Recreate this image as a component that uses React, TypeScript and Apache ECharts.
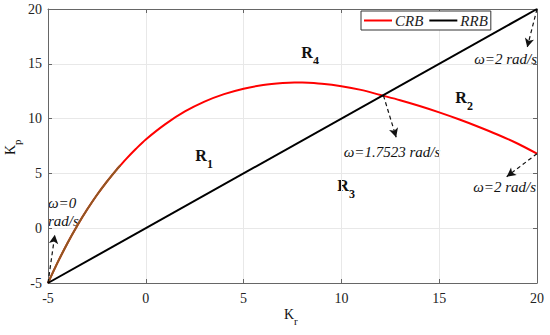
import React, { useEffect, useRef } from "react";
import * as echarts from "echarts";

const crbX = [-5, -4.5, -4, -3.5, -3, -2.5, -2, -1.5, -1.3, -1, -0.5, 0, 1, 2, 3, 4, 5, 6, 7, 7.6, 8, 9, 10, 11, 12, 13, 14, 15, 16, 17, 18, 19, 20];
const crbY = [-5, -3.1, -1.35, 0.25, 1.7, 3.03, 4.23, 5.33, 5.73, 6.33, 7.25, 8.1, 9.5, 10.65, 11.55, 12.23, 12.73, 13.06, 13.25, 13.3, 13.29, 13.18, 12.96, 12.62, 12.15, 11.68, 11.15, 10.57, 9.94, 9.26, 8.53, 7.73, 6.8];
const brownEndX = -1.3;
const rrbX = [-5, 20];
const rrbY = [-5, 20];
const seriesNames = ["CRB", "RRB"];
const axisMin = -5;
const axisMax = 20;
const axisStep = 5;

// annotation arrows (data space): [from, to]
const arrows: number[][][] = [
  [[-5, -5], [-4.65, -0.6]],
  [[20, 20], [19.5, 16.5]],
  [[12.15, 12.1], [12.8, 8.3]],
  [[20, 6.8], [18.45, 4.7]],
];

const FONT = "'Liberation Serif', 'Times New Roman', serif";

function subLabel(x: number, y: number, main: string, sub: string, bold: boolean, size: number, subSize: number, subDx: number, subDy: number, rotation = 0) {
  return {
    type: "group",
    x,
    y,
    rotation,
    silent: true,
    children: [
      {
        type: "text",
        x: 0,
        y: 0,
        style: { text: main, font: `${bold ? "bold " : ""}${size}px ${FONT}`, fill: "#111", align: "center", verticalAlign: "middle" },
      },
      {
        type: "text",
        x: subDx,
        y: subDy,
        style: { text: sub, font: `${bold ? "bold " : ""}${subSize}px ${FONT}`, fill: "#111", align: "left", verticalAlign: "middle" },
      },
    ],
  };
}

function annText(x: number, y: number, text: string, align: string) {
  return {
    type: "text",
    x,
    y,
    silent: true,
    style: { text, font: `italic 15px ${FONT}`, fill: "#111", align, verticalAlign: "middle" },
  };
}

export default function App() {
  const ref = useRef<HTMLDivElement>(null);
  useEffect(() => {
    if (!ref.current) return;
    const chart = echarts.init(ref.current, undefined, { renderer: "svg" });
    const crb = crbX.map((x, i) => [x, crbY[i]]);
    const brown = crb.filter((p) => p[0] <= brownEndX);
    const rrb = rrbX.map((x, i) => [x, rrbY[i]]);
    const axisCommon = {
      type: "value",
      min: axisMin,
      max: axisMax,
      interval: axisStep,
      axisLine: { show: true, onZero: false, lineStyle: { color: "#666", width: 1 } },
      axisTick: { show: true, inside: true, length: 4, lineStyle: { color: "#666" } },
    };
    chart.setOption({
      animation: false,
      backgroundColor: "#fff",
      grid: { left: 48, right: 13, top: 9, bottom: 52 },
      xAxis: [
        {
          ...axisCommon,
          position: "bottom",
          axisLabel: { fontFamily: FONT, fontSize: 14, color: "#222", margin: 8 },
          splitLine: { show: true, lineStyle: { color: "#e8e8e8", width: 1 } },
        },
        { ...axisCommon, position: "top", axisLabel: { show: false }, splitLine: { show: false } },
      ],
      yAxis: [
        {
          ...axisCommon,
          position: "left",
          axisLabel: { fontFamily: FONT, fontSize: 14, color: "#222", margin: 6 },
          splitLine: { show: true, lineStyle: { color: "#e8e8e8", width: 1 } },
        },
        { ...axisCommon, position: "right", axisLabel: { show: false }, splitLine: { show: false } },
      ],
      legend: {
        data: seriesNames.map((n) => ({ name: n, icon: "rect" })),
        left: 361,
        top: 11,
        itemWidth: 28,
        itemHeight: 2,
        itemGap: 6,
        padding: [2, 3],
        borderColor: "#333",
        borderWidth: 1,
        backgroundColor: "#fff",
        textStyle: { fontFamily: FONT, fontStyle: "italic", fontSize: 15, color: "#222", padding: [0, 0, 0, -2] },
      },
      series: [
        {
          name: seriesNames[0],
          type: "line",
          data: crb,
          showSymbol: false,
          smooth: 0.3,
          lineStyle: { color: "#ff0000", width: 2 },
          itemStyle: { color: "#ff0000" },
          z: 3,
        },
        {
          name: "brown",
          type: "line",
          data: brown,
          showSymbol: false,
          smooth: 0.3,
          lineStyle: { color: "#8f5a22", width: 2 },
          itemStyle: { color: "#8f5a22" },
          z: 4,
        },
        {
          name: seriesNames[1],
          type: "line",
          data: rrb,
          showSymbol: false,
          lineStyle: { color: "#000", width: 2 },
          itemStyle: { color: "#000" },
          z: 5,
          markLine: {
            silent: true,
            symbol: ["none", "arrow"],
            symbolSize: [7, 9],
            label: { show: false },
            lineStyle: { type: [4, 3], color: "#111", width: 1.2 },
            data: arrows.map((a) => [{ coord: a[0] }, { coord: a[1] }]),
          },
        },
      ],
      graphic: [
        subLabel(201, 155, "R", "1", true, 16, 12, 6, 9),
        subLabel(307, 52, "R", "4", true, 16, 12, 6, 9),
        subLabel(461, 97, "R", "2", true, 16, 12, 6, 9),
        subLabel(343, 185, "R", "3", true, 16, 12, 6, 9),
        subLabel(289, 314, "K", "r", false, 14, 11, 5, 7),
        subLabel(10, 150, "K", "p", false, 14, 11, 5, 7, Math.PI / 2),
        annText(48, 203, "ω=0", "left"),
        annText(48, 221, "rad/s", "left"),
        annText(537, 59, "ω=2 rad/s", "right"),
        annText(392, 152, "ω=1.7523 rad/s", "center"),
        annText(536, 187, "ω=2 rad/s", "right"),
      ],
    });
    return () => chart.dispose();
  }, []);
  return <div ref={ref} style={{ position: "fixed", left: 0, top: 0, width: 550, height: 335 }} />;
}
